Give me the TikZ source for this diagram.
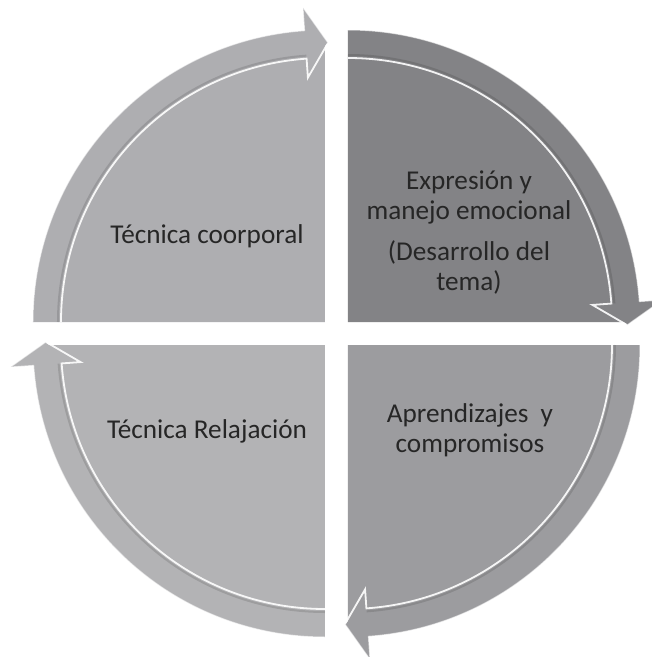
\documentclass[tikz,border=0pt]{standalone}
\usepackage{fontspec}
\setmainfont{Carlito}
\usetikzlibrary{positioning}

\definecolor{quadA}{RGB}{174,174,177}
\definecolor{quadB}{RGB}{131,131,134}
\definecolor{quadC}{RGB}{156,156,159}
\definecolor{quadD}{RGB}{179,179,181}
\definecolor{txtgray}{RGB}{38,38,38}

\begin{document}
\begin{tikzpicture}[
    x=1pt, y=1pt,
    quarter/.pic={
        \fill[#1] (0,0) -- (-292,0) arc[start angle=180, end angle=94, radius=292]
            -- (94:315) -- (3,279) -- (0,276) -- cycle;
        \draw[black, opacity=0.12, line width=2pt] (-267,0) arc[start angle=180, end angle=94, radius=267];
        \draw[white, opacity=0.9, line width=1.8pt] (-264,0) arc[start angle=180, end angle=94, radius=264]
            -- (94:245) -- (3,279);
        \draw[white, opacity=0.55, line width=1pt] (-292,0) arc[start angle=180, end angle=94, radius=292]
            -- (94:315) -- (3,279);
    },
    every node/.style={font=\fontsize{27.2}{29.5}\selectfont, text=txtgray, align=center, inner sep=0pt}
]

\useasboundingbox (-336.5,-323.5) rectangle (315.5,333.5);
\fill[white] (-336.5,-323.5) rectangle (315.5,333.5);

% Quarters
\pic at (-11.5,11.5) {quarter=quadA};
\pic[rotate=-90] at (11.5,11.5) {quarter=quadB};
\pic[rotate=-180] at (11.5,-11.5) {quarter=quadC};
\pic[rotate=90] at (-11.5,-11.5) {quarter=quadD};

% Labels
\node (corporal) [anchor=base] at (-129.5,90.5) {Técnica coorporal};
\node (expresion) [anchor=base] at (132.5,43.5) {Expresión y\\manejo emocional\\[12pt](Desarrollo del\\tema)};
\node (aprendizajes) [anchor=base] at (133.5,-118.5) {Aprendizajes~ y\\compromisos};
\node (relajacion) [anchor=base] at (-129.5,-104.5) {Técnica Relajación};

\end{tikzpicture}
\end{document}
